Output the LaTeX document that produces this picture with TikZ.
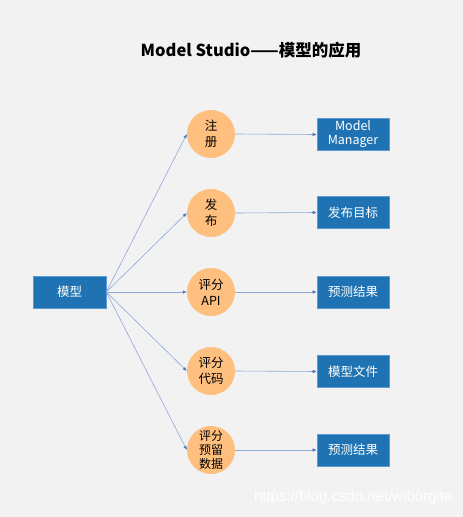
\documentclass[tikz,border=0pt]{standalone}
\usepackage{fontspec}
\setmainfont{Noto Sans CJK SC}
\newfontfamily\wmfont{Liberation Sans}
\usetikzlibrary{arrows.meta}
\definecolor{bg}{HTML}{F2F2F2}
\definecolor{boxblue}{HTML}{1F73B3}
\definecolor{boxedge}{HTML}{5B9BD5}
\definecolor{circfill}{HTML}{FFBF7F}
\definecolor{linecol}{HTML}{8EA9DB}
\definecolor{tipcol}{HTML}{4472C4}
\tikzset{
  bluebox/.style={rectangle, fill=boxblue, draw=boxedge, line width=0.6pt, text=white, minimum width=72pt, minimum height=32pt, inner sep=1pt, font=\fontsize{12.5}{14}\selectfont, align=center},
  circ/.style={circle, fill=circfill, draw=none, minimum size=48pt, inner sep=0pt, font=\fontsize{12.5}{16}\selectfont, align=center},
  conn/.style={draw=linecol, line width=0.6pt, -{Latex[length=4pt,width=3.5pt,color=tipcol]}},
}
\begin{document}
\begin{tikzpicture}[x=1pt,y=-1pt]
\fill[bg] (0,0) rectangle (463,517);
\useasboundingbox (0,0) rectangle (463,517);
\node[font=\fontsize{16.5}{18}\selectfont\bfseries] (title) at (251,50) {Model Studio——模型的应用};
\node[bluebox, minimum width=73pt] (m) at (69.5,292) {模型};
\node[circ] (c1) at (211,134) {注\\册};
\node[circ] (c2) at (211,213) {发\\布};
\node[circ] (c3) at (211,292) {评分\\API};
\node[circ] (c4) at (211,371) {评分\\代码};
\node[circ, font=\fontsize{12}{14}\selectfont] (c5) at (211,450) {评分\\预留\\数据};
\node[bluebox] (r1) at (353,134.5) {Model\\Manager};
\node[bluebox] (r2) at (353,212.5) {发布目标};
\node[bluebox] (r3) at (353,292) {预测结果};
\node[bluebox] (r4) at (353,371.5) {模型文件};
\node[bluebox] (r5) at (353,450) {预测结果};
\foreach \i in {1,...,5} {
  \draw[conn] (m.east) -- (c\i.west);
  \draw[conn] (c\i.east) -- (r\i.west);
}
\node[font=\wmfont\fontsize{15}{16}\selectfont, text=white, anchor=east] (wm) at (456,498) {https://blog.csdn.net/wiborgite};
\end{tikzpicture}
\end{document}
